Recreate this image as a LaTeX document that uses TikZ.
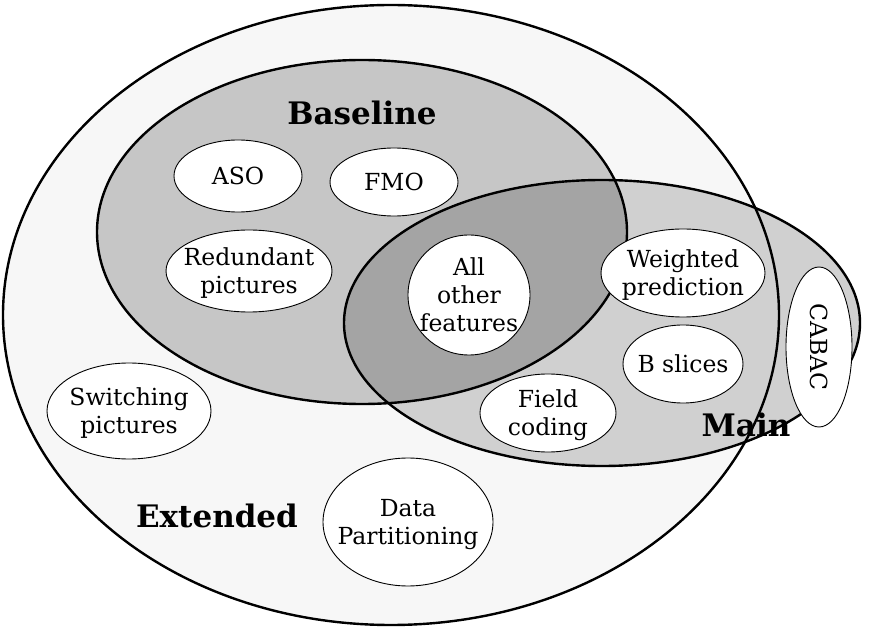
\documentclass[tikz,border=0pt]{standalone}
\usepackage{fontspec}
\setmainfont{DejaVu Serif}
\usetikzlibrary{shapes.geometric}
\definecolor{extfill}{HTML}{F7F7F7}
\definecolor{basefill}{HTML}{C6C6C6}
\definecolor{mainfill}{HTML}{D0D0D0}
\definecolor{bothfill}{HTML}{A4A4A4}
\newcommand\fixtext[1]{\raisebox{-0.37em}[0pt][0pt]{\makebox[0pt]{\begin{tabular}{@{}c@{}}#1\end{tabular}}}}
\tikzset{
  feat/.style={ellipse, draw=black, line width=0.9pt, fill=white, inner sep=0pt,
    font=\fontsize{23.5}{28}\selectfont},
  profile/.style={draw=black, line width=2.4pt},
  plabel/.style={font=\fontsize{31}{34}\selectfont\bfseries}
}
\begin{document}
\begin{tikzpicture}[x=1pt,y=-1pt]
\useasboundingbox (0,0) rectangle (871,628);
% fills
\fill[extfill] (391,315) ellipse [x radius=388, y radius=310];
\fill[basefill] (362,232) ellipse [x radius=265, y radius=172];
\fill[mainfill] (602,323) ellipse [x radius=258, y radius=143];
\begin{scope}
  \clip (362,232) ellipse [x radius=265, y radius=172];
  \fill[bothfill] (602,323) ellipse [x radius=258, y radius=143];
\end{scope}
% outlines
\draw[profile] (362,232) ellipse [x radius=265, y radius=172];
\draw[profile] (602,323) ellipse [x radius=258, y radius=143];
\draw[profile] (391,315) ellipse [x radius=388, y radius=310];
% labels
\node[plabel] (lbase) at (362,113) {Baseline};
\node[plabel] (lmain) at (746,425) {Main};
\node[plabel] (lext) at (217,516) {Extended};
% features
\node[feat, minimum width=128, minimum height=72] (aso) at (238,176) {\fixtext{ASO}};
\node[feat, minimum width=128, minimum height=68] (fmo) at (394,182) {\fixtext{FMO}};
\node[feat, minimum width=166, minimum height=82] (red) at (249,271) {\fixtext{Redundant\\pictures}};
\node[feat, minimum width=122, minimum height=120] (all) at (469,295) {\fixtext{All\\other\\features}};
\node[feat, minimum width=164, minimum height=88] (wp) at (683,273) {\fixtext{Weighted\\prediction}};
\node[feat, minimum width=120, minimum height=78] (bsl) at (683,364) {\fixtext{B slices}};
\node[feat, minimum width=160, minimum height=66, rotate=-90] (cabac) at (819,347) {\fixtext{CABAC}};
\node[feat, minimum width=136, minimum height=78] (field) at (548,413) {\fixtext{Field\\coding}};
\node[feat, minimum width=164, minimum height=96] (sw) at (129,411) {\fixtext{Switching\\pictures}};
\node[feat, minimum width=170, minimum height=128] (dp) at (408,522) {\fixtext{Data\\Partitioning}};
\end{tikzpicture}
\end{document}
